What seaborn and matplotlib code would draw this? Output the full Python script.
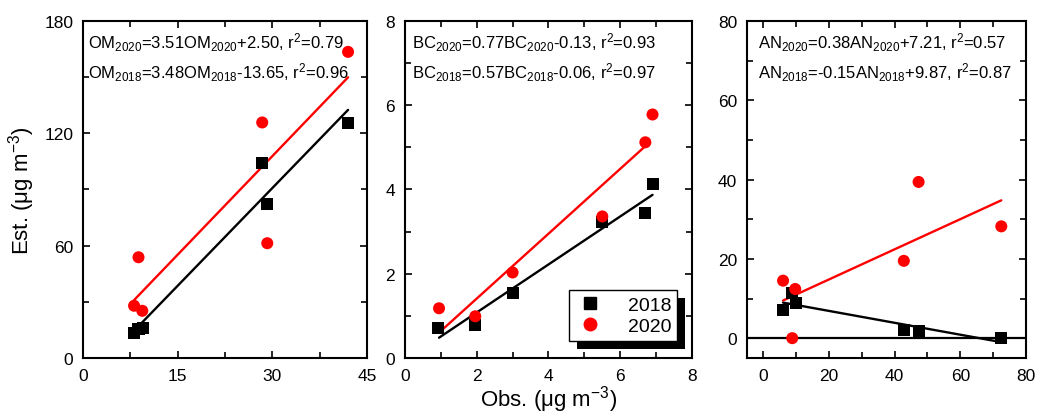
import numpy as np
import pandas as pd
import matplotlib
matplotlib.use('Agg')
import matplotlib.pyplot as plt
from matplotlib.lines import Line2D
from matplotlib.patches import Rectangle
from matplotlib.transforms import IdentityTransform
from matplotlib.ticker import MultipleLocator
import seaborn as sns

# ---------------- data ----------------
years = ['2018', '2020']

om_obs_2018 = [8.1, 8.8, 9.5, 28.4, 29.2, 42.0]
om_est_2018 = [13.3, 15.6, 16.0, 104.0, 82.3, 125.3]
om_obs_2020 = [8.1, 8.8, 9.4, 28.4, 29.2, 42.0]
om_est_2020 = [27.9, 53.8, 25.2, 125.8, 61.3, 163.5]

bc_obs_2018 = [0.93, 1.94, 3.0, 5.5, 6.7, 6.9]
bc_est_2018 = [0.71, 0.79, 1.55, 3.22, 3.44, 4.12]
bc_obs_2020 = [0.95, 1.96, 3.0, 5.5, 6.7, 6.9]
bc_est_2020 = [1.18, 0.99, 2.03, 3.36, 5.12, 5.78]

an_obs_2018 = [6.0, 8.6, 9.9, 42.8, 47.3, 72.5]
an_est_2018 = [7.2, 11.3, 8.8, 2.1, 1.7, 0.0]
an_obs_2020 = [6.0, 8.8, 9.7, 42.8, 47.3, 72.5]
an_est_2020 = [14.5, 0.0, 12.4, 19.5, 39.4, 28.2]

# fit coefficients (slope, intercept) and x-extent of fitted lines
om_fit_2018 = [3.48, -13.65]
om_fit_2020 = [3.51, 2.50]
bc_fit_2018 = [0.57, -0.06]
bc_fit_2020 = [0.77, -0.13]
an_fit_2018 = [-0.15, 9.87]
an_fit_2020 = [0.38, 7.21]

om_fit_x_2018 = [8.1, 42.0]
om_fit_x_2020 = [8.1, 42.0]
bc_fit_x_2018 = [0.95, 6.9]
bc_fit_x_2020 = [0.95, 6.7]
an_fit_x_2018 = [6.0, 72.5]
an_fit_x_2020 = [6.0, 72.5]

om_eqs = [r'OM$_{2020}$=3.51OM$_{2020}$+2.50, r$^{2}$=0.79',
          r'OM$_{2018}$=3.48OM$_{2018}$-13.65, r$^{2}$=0.96']
bc_eqs = [r'BC$_{2020}$=0.77BC$_{2020}$-0.13, r$^{2}$=0.93',
          r'BC$_{2018}$=0.57BC$_{2018}$-0.06, r$^{2}$=0.97']
an_eqs = [r'AN$_{2020}$=0.38AN$_{2020}$+7.21, r$^{2}$=0.57',
          r'AN$_{2018}$=-0.15AN$_{2018}$+9.87, r$^{2}$=0.87']

# ---------------- style ----------------
sns.set_theme(style='ticks')
plt.rcParams['font.family'] = ['Liberation Sans', 'DejaVu Sans']
plt.rcParams['mathtext.fontset'] = 'custom'
plt.rcParams['mathtext.rm'] = 'Liberation Sans'
plt.rcParams['mathtext.it'] = 'Liberation Sans:italic'
plt.rcParams['mathtext.bf'] = 'Liberation Sans:bold'
plt.rcParams['text.color'] = 'black'
plt.rcParams['axes.labelcolor'] = 'black'

colors = {'2018': 'black', '2020': 'red'}
markers = {'2018': 's', '2020': 'o'}

fig = plt.figure(figsize=(10.37, 4.14), dpi=100)
bottom, height = 0.1329, 0.814
ax1 = fig.add_axes([0.0800, bottom, 0.2739, height])
ax2 = fig.add_axes([0.3905, bottom, 0.2768, height])
ax3 = fig.add_axes([0.7203, bottom, 0.2690, height])


def panel(ax, obs18, est18, obs20, est20, fit18, fit20, fx18, fx20, eqs,
          xlim, ylim, xmaj, ymaj, eqx):
    df = pd.DataFrame({
        'obs': obs18 + obs20,
        'est': est18 + est20,
        'year': ['2018'] * len(obs18) + ['2020'] * len(obs20),
    })
    for fx, (m, b), yr in [(fx18, fit18, '2018'), (fx20, fit20, '2020')]:
        xs = np.array(fx)
        ax.plot(xs, m * xs + b, color=colors[yr], lw=1.7, zorder=2)
    sns.scatterplot(data=df, x='obs', y='est', hue='year', style='year',
                    palette=colors, markers=markers, s=75, linewidth=0,
                    ax=ax, legend=False, zorder=3)
    ax.set_xlim(*xlim)
    ax.set_ylim(*ylim)
    ax.xaxis.set_major_locator(MultipleLocator(xmaj))
    ax.xaxis.set_minor_locator(MultipleLocator(xmaj / 2))
    ax.yaxis.set_major_locator(MultipleLocator(ymaj))
    ax.yaxis.set_minor_locator(MultipleLocator(ymaj / 2))
    ax.tick_params(which='both', direction='in', top=True, right=True,
                   width=1.2, labelsize=12.5, pad=7, colors='black')
    ax.tick_params(which='major', length=5)
    ax.tick_params(which='minor', length=4)
    for sp in ax.spines.values():
        sp.set_linewidth(1.5)
        sp.set_color('black')
    ax.set_xlabel('')
    ax.set_ylabel('')
    ax.text(eqx, 0.94, eqs[0], transform=ax.transAxes, fontsize=12,
            va='center', ha='left', color='black')
    ax.text(eqx, 0.85, eqs[1], transform=ax.transAxes, fontsize=12,
            va='center', ha='left', color='black')


panel(ax1, om_obs_2018, om_est_2018, om_obs_2020, om_est_2020,
      om_fit_2018, om_fit_2020, om_fit_x_2018, om_fit_x_2020, om_eqs,
      (0, 45), (0, 180), 15, 60, 0.018)
panel(ax2, bc_obs_2018, bc_est_2018, bc_obs_2020, bc_est_2020,
      bc_fit_2018, bc_fit_2020, bc_fit_x_2018, bc_fit_x_2020, bc_eqs,
      (0, 8), (0, 8), 2, 2, 0.024)
panel(ax3, an_obs_2018, an_est_2018, an_obs_2020, an_est_2020,
      an_fit_2018, an_fit_2020, an_fit_x_2018, an_fit_x_2020, an_eqs,
      (-5, 80), (-5, 80), 20, 20, 0.04)
ax3.axhline(0, color='black', lw=1.6, zorder=1)

ax1.set_ylabel('Est. (μg m$^{-3}$)', fontsize=16, labelpad=5)
ax2.set_xlabel('Obs. (μg m$^{-3}$)', fontsize=16, labelpad=0)

handles = [Line2D([], [], ls='none', marker=markers[y], color=colors[y],
                  markersize=9, label=y) for y in years]
leg = ax2.legend(handles=handles, loc='lower right',
                 bbox_to_anchor=(0.948, 0.05), borderaxespad=0,
                 fontsize=14, frameon=True, fancybox=False, framealpha=1,
                 facecolor='white', handletextpad=1.2, borderpad=0.3,
                 labelspacing=0.2, handlelength=1.5)
leg.get_frame().set_edgecolor('black')
leg.get_frame().set_linewidth(1.0)
for t in leg.get_texts():
    t.set_color('black')
leg.set_zorder(6)

fig.canvas.draw()
bb = leg.get_window_extent()
shadow = Rectangle((bb.x0 + 8, bb.y0 - 8), bb.width, bb.height,
                   transform=IdentityTransform(), facecolor='black',
                   edgecolor='none', zorder=5.5, clip_on=False)
ax2.add_patch(shadow)

fig.savefig('out.png', dpi=100)
